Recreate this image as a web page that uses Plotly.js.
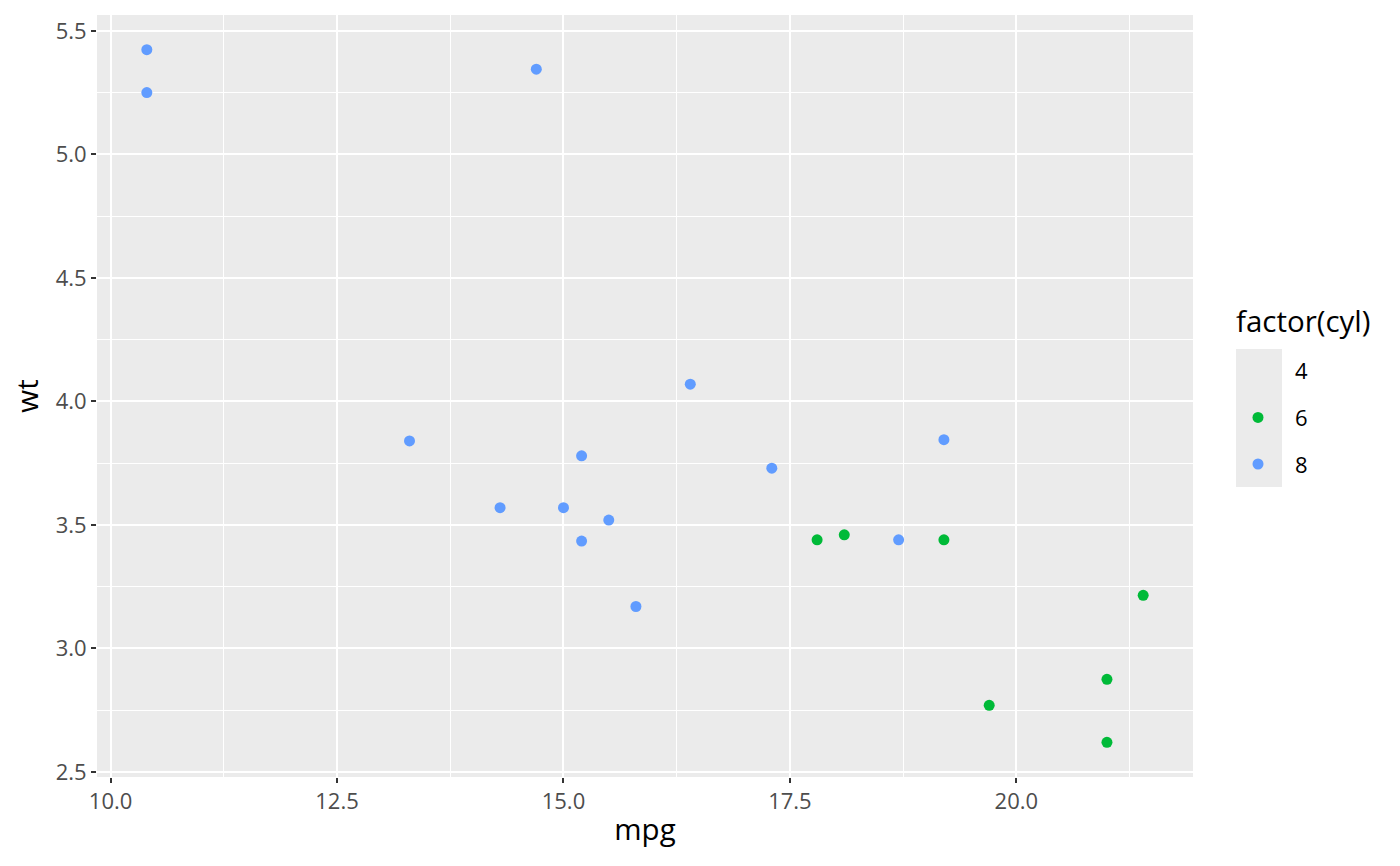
<!DOCTYPE html>
<html><head><meta charset="utf-8">
<script src="https://cdn.plot.ly/plotly-3.0.1.min.js"></script>
<style>body{margin:0;background:#fff}#c{width:1400px;height:866px}</style>
</head><body><div id="c"></div>
<script>
// mtcars subset (mpg vs wt), grouped by cylinders
const cyl4_mpg = [21.4];
const cyl4_wt = [2.780];
const cyl6_mpg = [21.0, 21.0, 21.4, 18.1, 19.2, 17.8, 19.7];
const cyl6_wt = [2.620, 2.875, 3.215, 3.460, 3.440, 3.440, 2.770];
const cyl8_mpg = [18.7, 14.3, 16.4, 17.3, 15.2, 10.4, 10.4, 14.7, 15.5, 15.2, 13.3, 19.2, 15.8, 15.0];
const cyl8_wt = [3.440, 3.570, 4.070, 3.730, 3.780, 5.250, 5.424, 5.345, 3.520, 3.435, 3.840, 3.845, 3.170, 3.570];
const levels = ["4", "6", "8"];
const legendTitle = "factor(cyl)";
const xTicks = [10.0, 12.5, 15.0, 17.5, 20.0];
const xTickLabels = ["10.0", "12.5", "15.0", "17.5", "20.0"];
const yTicks = [2.5, 3.0, 3.5, 4.0, 4.5, 5.0, 5.5];
const yTickLabels = ["2.5", "3.0", "3.5", "4.0", "4.5", "5.0", "5.5"];

const font = "Open Sans, Noto Sans, sans-serif";
const mk = (x, y, name, color) => ({
  type: 'scatter', mode: 'markers', x: x, y: y, name: name,
  legendgroup: name,
  marker: {color: color, size: 11},
  hoverinfo: 'x+y'
});
const data = [
  mk(cyl4_mpg, cyl4_wt, levels[0], 'rgba(0,0,0,0)'),
  mk(cyl6_mpg, cyl6_wt, levels[1], '#00BA38'),
  mk(cyl8_mpg, cyl8_wt, levels[2], '#619CFF')
];
const axisCommon = {
  showline: false, zeroline: false,
  gridcolor: '#FFFFFF', gridwidth: 2,
  ticks: 'outside', ticklen: 5, tickwidth: 2, tickcolor: '#333333',
  tickfont: {family: font, size: 22, color: '#4D4D4D'},
  mirror: false
};
const L = 97, T = 15, PW = 1096, PH = 762;
const layout = {
  width: 1400, height: 866,
  paper_bgcolor: '#FFFFFF', plot_bgcolor: '#EBEBEB',
  margin: {l: L, r: 1400 - L - PW, t: T, b: 866 - T - PH},
  showlegend: true,
  xaxis: Object.assign({}, axisCommon, {
    range: [9.85, 21.95], tickvals: xTicks, ticktext: xTickLabels,
    minor: {dtick: 1.25, tick0: 0, gridcolor: '#FFFFFF', gridwidth: 1, showgrid: true},
    title: {text: 'mpg', font: {family: font, size: 29.5, color: '#000'}, standoff: 4}
  }),
  yaxis: Object.assign({}, axisCommon, {
    range: [2.4798, 5.5642], tickvals: yTicks, ticktext: yTickLabels,
    minor: {dtick: 0.25, tick0: 0, gridcolor: '#FFFFFF', gridwidth: 1, showgrid: true},
    title: {text: 'wt', font: {family: font, size: 29.5, color: '#000'}, standoff: 8}
  }),
  legend: {
    x: (1221 - L) / PW, xanchor: 'left', y: (T + PH - 350) / PH, yanchor: 'top',
    bgcolor: 'rgba(0,0,0,0)', borderwidth: 0,
    traceorder: 'grouped', tracegroupgap: 15, itemwidth: 64,
    font: {family: font, size: 22, color: '#000'}
  },
  annotations: [{
    text: legendTitle, xref: 'paper', yref: 'paper', showarrow: false,
    x: (1234 - L) / PW, y: (T + PH - 321) / PH, xanchor: 'left', yanchor: 'middle',
    font: {family: font, size: 29.5, color: '#000'}
  }],
  shapes: [{
    type: 'rect', xref: 'paper', yref: 'paper', layer: 'below',
    x0: (1236 - L) / PW, x1: (1282 - L) / PW,
    y0: (T + PH - 487) / PH, y1: (T + PH - 349) / PH,
    fillcolor: '#EBEBEB', line: {width: 0}
  }]
};
Plotly.newPlot('c', data, layout, {displayModeBar: false});
</script></body></html>
